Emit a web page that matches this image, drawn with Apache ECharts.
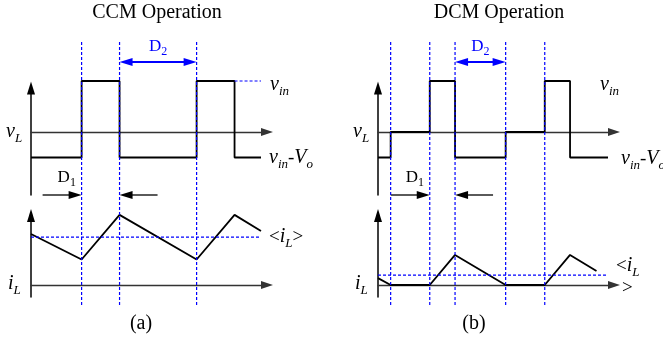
<!DOCTYPE html>
<html>
<head>
<meta charset="utf-8">
<script src="https://cdn.jsdelivr.net/npm/echarts@6/dist/echarts.min.js"></script>
<style>
  html, body { margin: 0; padding: 0; background: #fff; }
  #c { width: 663px; height: 341px; }
</style>
</head>
<body>
<div id="c"></div>
<script>
// Switching instants in units of the switching period, and waveform levels.
// vL levels: vin = 2, 0, vin - Vo = -1 (normalised); iL in the same units.
const ccmEdges = [0, 0.44, 0.77, 1.44, 1.77, 2.0];
const ccmVL    = [-1, 2, -1, 2, -1, -1];
const ccmIL    = [2.0, 1.0, 2.75, 1.0, 2.75, 2.12];
const ccmAvg   = 1.88;
const ccmMarks = [0.44, 0.77, 1.44];

const dcmEdges  = [0, 0.11, 0.45, 0.67, 1.11, 1.45, 1.67, 2.0];
const dcmVL     = [-1, 0, 2, -1, 0, 2, -1, -1];
const dcmILTime = [0, 0.11, 0.45, 0.67, 1.11, 1.45, 1.67, 1.90];
const dcmIL     = [0.27, 0, 0, 1.18, 0, 0, 1.18, 0.55];
const dcmAvg    = 0.39;
const dcmMarks  = [0.11, 0.45, 0.67, 1.11, 1.45];

const VIN = 2;

const BLUE = '#0000ff';
const SERIF = '"Liberation Serif", "Times New Roman", serif';
const XMAX = 236 / 115;

const chart = echarts.init(document.getElementById('c'), null, { renderer: 'canvas' });

const panelLeft = [31, 378];
const grids = [], xAxes = [], yAxes = [], series = [];

function axisLineStyle(color, width) {
  return { show: true, onZero: true, symbol: ['none', 'triangle'], lineStyle: { color, width } };
}

panelLeft.forEach((left, p) => {
  // vL plot, iL plot, overlay for the timing marks
  grids.push({ left, top: 88, width: 236, height: 107 });
  grids.push({ left, top: 215.5, width: 236, height: 81.5 });
  grids.push({ left, top: 42, width: 236, height: 263 });
  for (let k = 0; k < 3; k++) {
    const gi = p * 3 + k;
    const shown = k < 2;
    xAxes.push({
      type: 'value', gridIndex: gi, min: 0, max: XMAX,
      axisLine: shown ? Object.assign(axisLineStyle('#333', 1.3), { symbolSize: [8, 12] }) : { show: false },
      axisTick: { show: false }, axisLabel: { show: false }, splitLine: { show: false }
    });
    const yr = k === 0 ? [-63 / 25.5, 44 / 25.5] : k === 1 ? [-12 / 25.5, 69.5 / 25.5] : [0, 1];
    yAxes.push({
      type: 'value', gridIndex: gi, min: yr[0], max: yr[1], inverse: k === 2,
      axisLine: shown ? Object.assign(axisLineStyle('#000', 1.5), { symbolSize: [8, 13] }) : { show: false },
      axisTick: { show: false }, axisLabel: { show: false }, splitLine: { show: false }
    });
  }
});

function wave(gi, data, extra) {
  return Object.assign({
    type: 'line', xAxisIndex: gi, yAxisIndex: gi, data, symbol: 'none', clip: false,
    lineStyle: { color: '#000', width: 1.8 }, silent: true, animation: false
  }, extra || {});
}
function dashed(gi, data) {
  return wave(gi, data, { lineStyle: { color: BLUE, width: 1.2, type: [3, 2] } });
}

// CCM
series.push(wave(0, ccmEdges.map((t, i) => [t, ccmVL[i]]), { step: 'end' }));
series.push(dashed(0, [[ccmEdges[4], VIN], [ccmEdges[5], VIN]]));
series.push(wave(1, ccmEdges.map((t, i) => [t, ccmIL[i]])));
series.push(dashed(1, [[0, ccmAvg], [ccmEdges[ccmEdges.length - 1], ccmAvg]]));
ccmMarks.forEach(t => series.push(dashed(2, [[t, 0], [t, 1]])));

// DCM
series.push(wave(3, dcmEdges.map((t, i) => [t, dcmVL[i]]), { step: 'end' }));
series.push(wave(4, dcmILTime.map((t, i) => [t, dcmIL[i]])));
series.push(dashed(4, [[0, dcmAvg], [dcmEdges[dcmEdges.length - 1], dcmAvg]]));
dcmMarks.forEach(t => series.push(dashed(5, [[t, 0], [t, 1]])));

chart.setOption({
  animation: false,
  backgroundColor: '#fff',
  grid: grids, xAxis: xAxes, yAxis: yAxes, series
});

// ---- annotations ----
const rich = {
  i:  { fontFamily: SERIF, fontSize: 20, fontStyle: 'italic', lineHeight: 26, verticalAlign: 'middle', fill: '#000' },
  s:  { fontFamily: SERIF, fontSize: 13, fontStyle: 'italic', lineHeight: 13, verticalAlign: 'bottom', fill: '#000' },
  n:  { fontFamily: SERIF, fontSize: 19, lineHeight: 26, verticalAlign: 'middle', fill: '#000' },
  d:  { fontFamily: SERIF, fontSize: 17, lineHeight: 22, verticalAlign: 'middle' },
  ds: { fontFamily: SERIF, fontSize: 12, lineHeight: 12, verticalAlign: 'bottom' }
};

function txt(text, x, y, align, color) {
  return {
    type: 'text', x, y, silent: true,
    style: {
      text, x: 0, y: 0, align: align || 'left', textAlign: align || 'left',
      verticalAlign: 'middle', textVerticalAlign: 'middle',
      fontFamily: SERIF, fontSize: 20, fill: color || '#000', rich
    }
  };
}
function plain(text, x, y) {
  return {
    type: 'text', x, y, silent: true,
    style: { text, align: 'center', textAlign: 'center', verticalAlign: 'middle', textVerticalAlign: 'middle',
             fontFamily: SERIF, fontSize: 20, fill: '#000' }
  };
}

function arrowHead(tipX, y, dir, color, len, half) {
  return {
    type: 'polygon', silent: true,
    shape: { points: [[tipX, y], [tipX - dir * len, y - half], [tipX - dir * len, y + half]] },
    style: { fill: color }
  };
}
function hline(x1, x2, y, color, w) {
  return { type: 'line', silent: true, shape: { x1, y1: y, x2, y2: y }, style: { stroke: color, lineWidth: w } };
}

const px = (gi, t) => chart.convertToPixel({ gridIndex: gi }, [t, 0])[0];

const g = [];
g.push(plain('CCM Operation', 157, 13));
g.push(plain('DCM Operation', 499, 13));
g.push(plain('(a)', 141, 324));
g.push(plain('(b)', 474, 324));

// CCM labels
g.push(txt('{i|v}{s|L}', 6, 132));
g.push(txt('{i|i}{s|L}', 8, 284));
g.push(txt('{i|v}{s|in}', 270, 85));
g.push(txt('{i|v}{s|in}{n|-}{i|V}{s|o}', 269, 158));
g.push(txt('{n|<}{i|i}{s|L}{n|>}', 269, 237));

// DCM labels
g.push(txt('{i|v}{s|L}', 353, 132));
g.push(txt('{i|i}{s|L}', 355, 284));
g.push(txt('{i|v}{s|in}', 600, 85));
g.push(txt('{i|v}{s|in}{n|-}{i|V}{s|o}', 621, 159));
g.push(txt('{n|<}{i|i}{s|L}', 616, 266));
g.push(txt('{n|>}', 622, 288));

// D2 spans (blue double arrows) and D1 pointers (black)
function d2(gi, t1, t2) {
  const a = px(gi, t1), b = px(gi, t2), y = 62;
  g.push(hline(a + 10, b - 10, y, BLUE, 2));
  g.push(arrowHead(a, y, -1, BLUE, 13, 4));
  g.push(arrowHead(b, y, 1, BLUE, 13, 4));
  g.push(txt('{d|D}{ds|2}', (a + b) / 2, 47, 'center', BLUE));
}
function d1(gi, t1, t2) {
  const a = px(gi, t1), b = px(gi, t2), y = 195;
  g.push(hline(a - 39, a - 10, y, '#000', 1.3));
  g.push(arrowHead(a, y, 1, '#000', 13, 4));
  g.push(hline(b + 10, b + 38, y, '#000', 1.3));
  g.push(arrowHead(b, y, -1, '#000', 13, 4));
  g.push(txt('{d|D}{ds|1}', a - 24, 178, 'left', '#000'));
}
d2(2, ccmEdges[2], ccmEdges[3]);
d1(2, ccmEdges[1], ccmEdges[2]);
d2(5, dcmEdges[3], dcmEdges[4]);
d1(5, dcmEdges[2], dcmEdges[3]);

chart.setOption({ graphic: { elements: g } });
</script>
</body>
</html>
